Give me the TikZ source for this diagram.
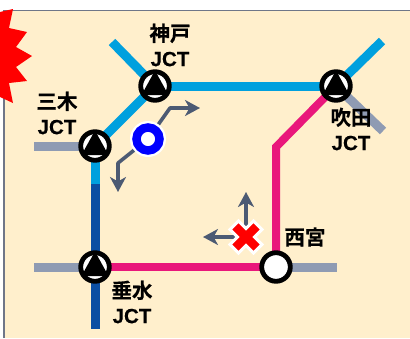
\documentclass[tikz,border=0pt]{standalone}
\usepackage{fontspec}
\setmainfont{Noto Sans CJK JP Bold}[FakeBold=0.6]
\newfontfamily\latinb{Liberation Sans Bold}[FakeBold=0.3]
\usetikzlibrary{arrows.meta}
\pgfdeclarelayer{background}
\pgfsetlayers{background,main}
\definecolor{cream}{HTML}{FFEFCC}
\definecolor{edgegray}{HTML}{6F7688}
\definecolor{roadcyan}{HTML}{00A0DE}
\definecolor{roadnavy}{HTML}{0B4EA2}
\definecolor{roadpink}{HTML}{E9177B}
\definecolor{roadgray}{HTML}{8F9BB3}
\definecolor{slatearrow}{HTML}{4C5A73}
\newcommand{\jc}{{\latinb\fontsize{20.5}{25}\selectfont JCT}}
\tikzset{
  x=1pt,y=-1pt,
  jct/.style={circle,draw=black,line width=4.8pt,fill=white,minimum size=28.6pt,inner sep=0pt,outer sep=0pt},
  tri/.pic={
    \fill[black,rounded corners=1.2pt] (0,-15.5) -- (13.5,9) -- (-13.5,9) -- cycle;
  },
  plain/.style={circle,draw=black,line width=4.8pt,fill=white,minimum size=28.6pt,inner sep=0pt,outer sep=0pt},
  cyanroad/.style={draw=roadcyan,line width=9pt},
  navyroad/.style={draw=roadnavy,line width=9pt},
  pinkroad/.style={draw=roadpink,line width=8pt,line join=miter},
  grayroad/.style={draw=roadgray,line width=9pt},
  flow/.style={draw=slatearrow,line width=3.6pt,line join=round,-{Stealth[length=15pt,width=16pt,inset=4.5pt]}},
  lbl/.style={font=\fontsize{20.5}{25}\selectfont,align=center,inner sep=0pt,text=black},
}
\begin{document}
\begin{tikzpicture}
\useasboundingbox (0,0) rectangle (410,338);
% junctions
\node[jct] (kobe) at (155,86) {};
\pic at (kobe) {tri};
\node[jct] (miki) at (95,146) {};
\pic at (miki) {tri};
\node[jct] (tarumi) at (95,267) {};
\pic at (tarumi) {tri};
\node[jct] (suita) at (336,86) {};
\pic at (suita) {tri};
\node[plain] (nishi) at (276,267) {};
% free ends
\coordinate (kobeNW) at (112,42);
\coordinate (suitaNE) at (382,41);
\coordinate (suitaSE) at (383,131);
\coordinate (mikiW) at (34,146);
\coordinate (tarumiW) at (34,267);
\coordinate (tarumiS) at (95,329);
\coordinate (nishiE) at (337,267);
\coordinate (colorchg) at (95,184);
\coordinate (pinkbend) at (276,147);
\begin{pgfonlayer}{background}
  \fill[white] (0,0) rectangle (410,338);
  \fill[cream] (4,10) rectangle (410,338);
  \draw[edgegray,line width=1.2pt] (4,338) -- (4,10.5) -- (410,10.5);
  \draw[grayroad] (mikiW) -- (miki);
  \draw[grayroad] (tarumiW) -- (tarumi);
  \draw[grayroad] (nishi) -- (nishiE);
  \draw[grayroad] (suita) -- (suitaSE);
  \draw[cyanroad] (kobeNW) -- (kobe);
  \draw[cyanroad] (kobe) -- (miki);
  \draw[cyanroad] (kobe) -- (suita);
  \draw[cyanroad] (suita) -- (suitaNE);
  \draw[cyanroad] (miki) -- (colorchg);
  \draw[navyroad] (colorchg) -- (tarumi);
  \draw[navyroad] (tarumi) -- (tarumiS);
  \draw[pinkroad] (tarumi) -- (nishi);
  \draw[pinkroad] (nishi) -- (pinkbend) -- (suita);
\end{pgfonlayer}
% burst
\fill[red] (13,9) -- (9,28) -- (27,32) -- (16,47) -- (32,56) -- (16,67) -- (27,81) -- (9,83) -- (13,103) -- (0,97) -- (0,12) -- cycle;
% closure marker and ring
\coordinate (xmark) at (246,237);
\coordinate (ring) at (148,139);
\coordinate (upEnd) at (246,192);
\coordinate (leftEnd) at (203,237);
\draw[flow] (xmark) -- (upEnd);
\draw[flow] (xmark) -- (leftEnd);
\coordinate (bendA) at (118,163);
\coordinate (bendB) at (170,108);
\coordinate (downEnd) at (118,192);
\coordinate (rightEnd) at (200,108);
\draw[flow] (ring) -- (bendA) -- (downEnd);
\draw[flow] (ring) -- (bendB) -- (rightEnd);
\node[circle,fill=white,minimum size=36pt,inner sep=0pt] (ringout) at (ring) {};
\node[circle,draw=blue,line width=8.5pt,fill=white,minimum size=23pt,inner sep=0pt] (ringin) at (ring) {};
\fill[red,draw=white,line width=3pt,line join=miter,shift={(xmark)}]
  (-16,-7.5) -- (-7.5,-16) -- (0,-8.5) -- (7.5,-16) -- (16,-7.5) -- (8.5,0) -- (16,7.5) -- (7.5,16) -- (0,8.5) -- (-7.5,16) -- (-16,7.5) -- (-8.5,0) -- cycle;
% labels
\node[lbl] (kobeL) at (170,45) {神戸\\\jc};
\node[lbl] (mikiL) at (57,113) {三木\\\jc};
\node[lbl] (suitaL) at (351,129) {吹田\\\jc};
\node[lbl] (tarumiL) at (132,302) {垂水\\\jc};
\node[lbl] (nishiL) at (305,237) {西宮};
\end{tikzpicture}
\end{document}
